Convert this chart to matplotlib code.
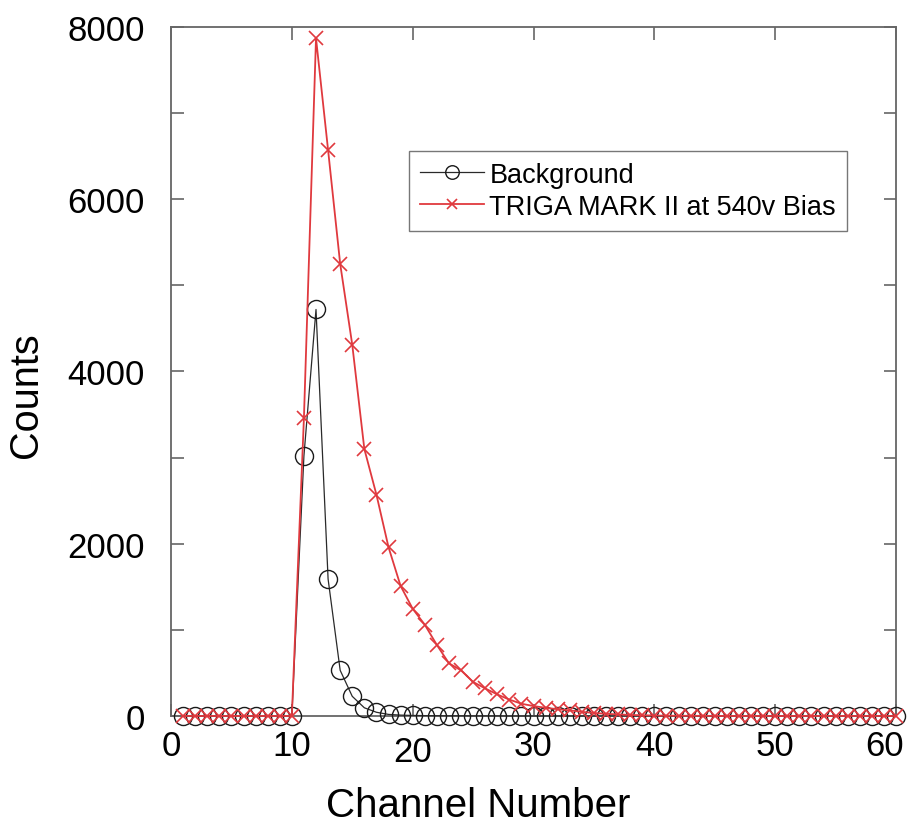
import numpy as np
import matplotlib.pyplot as plt
from matplotlib.transforms import ScaledTranslation

plt.rcParams['font.family'] = ['Liberation Sans', 'DejaVu Sans']

# channel numbers 1..60
channels = np.arange(1, 61)

# background counts
background = [0, 0, 0, 0, 0, 0, 0, 0, 0, 0,
              3020, 4720, 1590, 530, 228, 95, 43, 18, 10, 6,
              4, 3, 2, 2, 1, 1, 1, 0, 0, 0,
              0, 0, 0, 0, 0, 0, 0, 0, 0, 0,
              0, 0, 0, 0, 0, 0, 0, 0, 0, 0,
              0, 0, 0, 0, 0, 0, 0, 0, 0, 0]

# TRIGA MARK II at 540v bias
triga = [0, 0, 0, 0, 0, 0, 0, 0, 0, 0,
         3460, 7870, 6570, 5250, 4310, 3100, 2570, 1960, 1510, 1245,
         1060, 825, 612, 530, 395, 320, 250, 190, 142, 115,
         95, 78, 65, 48, 35, 25, 18, 12, 8, 5,
         3, 2, 2, 1, 1, 0, 0, 0, 0, 0,
         0, 0, 0, 0, 0, 0, 0, 0, 0, 0]

fig = plt.figure(figsize=(9.13, 8.28), dpi=100)
ax = fig.add_axes([0.1873, 0.1341, 0.7941, 0.8321])

ax.plot(channels, background, color='#2a2a2a', lw=0.9, marker='o', ms=13,
        mfc='none', mec='#1a1a1a', mew=1.0, clip_on=False, zorder=3,
        label='Background')
ax.plot(channels, triga, color='#e0393e', lw=1.3, marker='x', ms=10,
        mec='#e0393e', mew=1.2, clip_on=False, zorder=4,
        label='TRIGA MARK II at 540v Bias')

ax.set_xlim(0, 60)
ax.set_ylim(0, 8000)
ax.set_xticks(np.arange(0, 61, 10))
ax.set_yticks(np.arange(0, 8001, 2000))
ax.set_yticks(np.arange(1000, 8000, 2000), minor=True)

for s in ax.spines.values():
    s.set_color('#666666')
    s.set_linewidth(1.3)

ax.tick_params(which='both', direction='in', length=9, width=1.2,
               color='#666666', top=True, right=True, labelsize=25)
ax.tick_params(axis='x', pad=9.5)
ax.tick_params(axis='y', pad=19)
# the "20" label sits lower in the original
xt = ax.xaxis.get_major_ticks()
xt[2].set_pad(13.5)
# and "60" is pulled in from the right edge
lab60 = xt[6].label1
lab60.set_transform(lab60.get_transform() +
                    ScaledTranslation(-0.11, 0, fig.dpi_scale_trans))

ax.set_xlabel('Channel Number', fontsize=29)
ax.set_ylabel('Counts', fontsize=28.5)
ax.xaxis.set_label_coords(0.424, -0.101)
ax.yaxis.set_label_coords(-0.174, 0.467)

leg = ax.legend(loc='upper right', bbox_to_anchor=(0.932, 0.820),
                fontsize=19.5, frameon=True, fancybox=False, framealpha=1,
                edgecolor='#777777', borderpad=0.4, labelspacing=0.22,
                handlelength=2.35, handletextpad=0.2, borderaxespad=0,
                markerscale=0.75)
leg.get_frame().set_linewidth(1.0)

fig.savefig('out.png', dpi=100)
